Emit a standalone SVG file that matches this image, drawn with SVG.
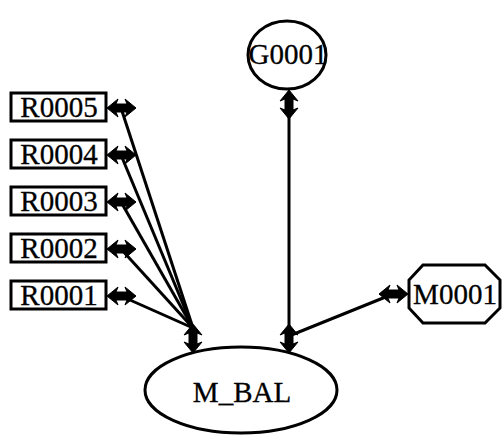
<svg xmlns="http://www.w3.org/2000/svg" width="502" height="435" viewBox="0 0 502 435">
<defs>
<style>
.n{fill:#fff;stroke:#000;stroke-width:3}
.t{font-family:"Liberation Serif","Times New Roman",serif;font-size:29px;fill:#000;stroke:#000;stroke-width:0.3;text-anchor:middle}
.e{stroke:#000;stroke-width:3;fill:none}
.a{fill:#000;stroke:#000;stroke-width:1;stroke-linejoin:round}
</style>
<polygon id="dh" class="a" points="0,0 11,-9 9,-4 20,-4 18,-9 29,0 18,9 20,4 9,4 11,9"/>
</defs>
<rect width="502" height="435" fill="#fff"/>
<g id="connectors">
<line class="e" x1="121" y1="108" x2="193" y2="328"/>
<line class="e" x1="121" y1="155" x2="193" y2="328"/>
<line class="e" x1="121" y1="202" x2="193" y2="328"/>
<line class="e" x1="121" y1="249" x2="193" y2="328"/>
<line class="e" x1="121" y1="296" x2="193" y2="328"/>
<line class="e" x1="289" y1="105" x2="289" y2="328"/>
<line class="e" x1="393" y1="294" x2="289" y2="336"/>
<use href="#dh" transform="translate(107,108)"/>
<use href="#dh" transform="translate(107,155)"/>
<use href="#dh" transform="translate(107,202)"/>
<use href="#dh" transform="translate(107,249)"/>
<use href="#dh" transform="translate(107,296)"/>
<use href="#dh" transform="translate(289,90) rotate(90)"/>
<use href="#dh" transform="translate(193,324) rotate(90)"/>
<use href="#dh" transform="translate(289,324) rotate(90)"/>
<use href="#dh" transform="translate(379,294)"/>
</g>
<g id="R0005"><rect class="n" x="11" y="93" width="95" height="28"/><text class="t" x="59" y="117">R0005</text></g>
<g id="R0004"><rect class="n" x="11" y="140" width="95" height="28"/><text class="t" x="59" y="164">R0004</text></g>
<g id="R0003"><rect class="n" x="11" y="187" width="95" height="28"/><text class="t" x="59" y="211">R0003</text></g>
<g id="R0002"><rect class="n" x="11" y="234" width="95" height="28"/><text class="t" x="59" y="258">R0002</text></g>
<g id="R0001"><rect class="n" x="11" y="281" width="95" height="28"/><text class="t" x="59" y="305">R0001</text></g>
<g id="G0001"><ellipse class="n" cx="287" cy="55" rx="39" ry="34"/><text class="t" x="288" y="64">G0001</text></g>
<g id="M0001"><polygon class="n" points="423,265 485,265 500,280 500,308 485,323 423,323 409,308 409,280"/><text class="t" x="455" y="304">M0001</text></g>
<g id="M_BAL"><ellipse class="n" cx="241" cy="390" rx="96" ry="43"/><text class="t" x="242" y="402">M_BAL</text></g>
</svg>
